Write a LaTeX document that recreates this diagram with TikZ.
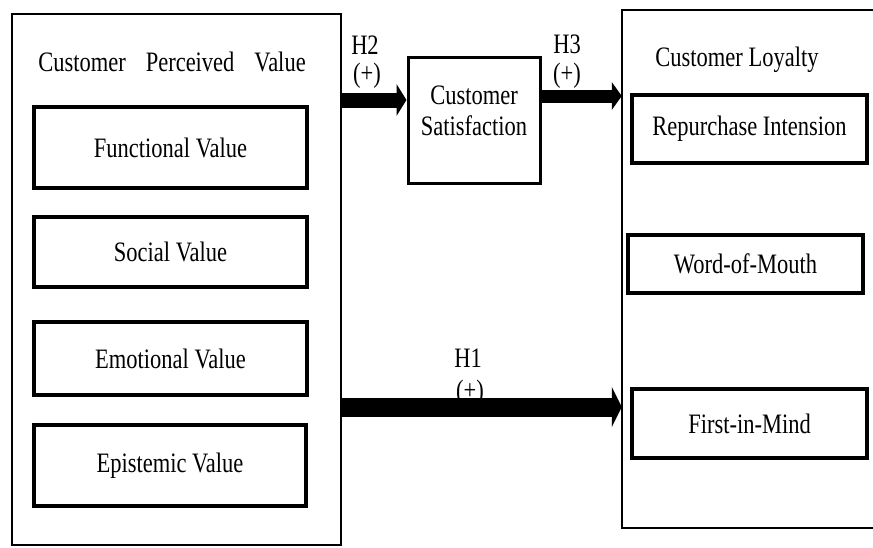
\documentclass[tikz,border=0pt]{standalone}
\usepackage{fontspec}
\usepackage{graphicx}
\setmainfont{Liberation Serif}
\usetikzlibrary{arrows.meta}
\newcommand{\tallt}[1]{\scalebox{1}[1.25]{#1}}
\begin{document}
\begin{tikzpicture}[x=1pt,y=-1pt,
  txt/.style={font=\fontsize{22.5}{26}\selectfont, inner sep=0pt},
  bigbox/.style={draw, line width=2.4pt, inner sep=0pt},
  itembox/.style={draw, line width=3.4pt, inner sep=0pt, font=\fontsize{22.5}{26}\selectfont},
  harrow/.style={line width=#1, -{Triangle[length=10pt,width=2.1*#1]}},
  hlabel/.style={font=\fontsize{22.5}{26}\selectfont, inner sep=0pt}
]
\useasboundingbox (0,0) rectangle (873,547);
\fill[white] (0,0) rectangle (873,547);

% left big box
\node[bigbox, minimum width=329pt, minimum height=531pt] (cpv) at (176.5,279.5) {};
\node[txt] (cpvt) at (172,62) {\tallt{Customer\hspace{20pt}Perceived\hspace{20pt}Value}};
\node[itembox, minimum width=273pt, minimum height=81pt] (fv) at (170.5,147.5) {\tallt{Functional Value}};
\node[itembox, minimum width=273pt, minimum height=70pt] (sv) at (170.5,252) {\tallt{Social Value}};
\node[itembox, minimum width=273pt, minimum height=73pt] (ev) at (170.5,358.5) {\tallt{Emotional Value}};
\node[itembox, minimum width=272pt, minimum height=81pt] (epv) at (170,465.5) {\tallt{Epistemic Value}};

% customer satisfaction
\node[bigbox, line width=3pt, minimum width=132pt, minimum height=126pt] (sat) at (474,120) {};
\node[txt, align=center] (satt) at (474,111) {\tallt{Customer}\\[5pt]\tallt{Satisfaction}};

% right box (open at the right edge)
\node[minimum width=254pt, minimum height=518pt, inner sep=0pt] (loy) at (749,269) {};
\draw[line width=2.4pt] (loy.north east) -- (loy.north west) -- (loy.south west) -- (loy.south east);
\node[txt] (loyt) at (737,60) {\tallt{Customer Loyalty}};
\node[itembox, minimum width=235pt, minimum height=68pt] (ri) at (749.5,129) {\tallt{Repurchase Intension}};
\node[itembox, minimum width=235pt, minimum height=58pt] (wom) at (745.5,264) {\tallt{Word-of-Mouth}};
\node[itembox, minimum width=235pt, minimum height=69pt] (fim) at (749.5,423.5) {\tallt{First-in-Mind}};

% labels
\node[hlabel] (h2) at (365,45) {\tallt{H2}};
\node[hlabel] (h2p) at (367,76) {\tallt{(+)}};
\node[hlabel] (h3) at (567,44) {\tallt{H3}};
\node[hlabel] (h3p) at (567,76) {\tallt{(+)}};
\node[hlabel] (h1) at (468,358) {\tallt{H1}};
\node[hlabel] (h1p) at (470,393) {\tallt{(+)}};

% arrows
\draw[harrow=15pt] (cpv.east |- 0,100) -- (sat.west |- 0,100);
\draw[harrow=13pt] (sat.east |- 0,96) -- (loy.west |- 0,96);
\draw[harrow=19pt] (cpv.east |- 0,407) -- (loy.west |- 0,407);
\end{tikzpicture}
\end{document}
